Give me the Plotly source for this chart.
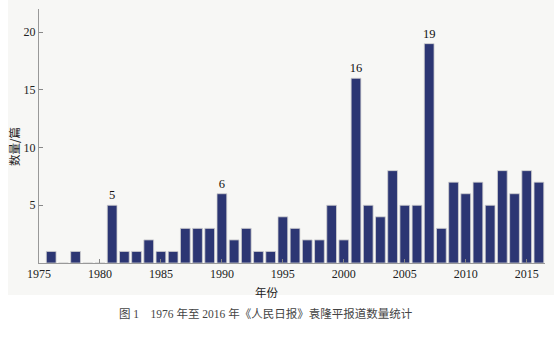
import plotly.graph_objects as go

years = list(range(1976, 2017))
counts = [1, 0, 1, 0, 0, 5, 1, 1, 2, 1, 1, 3, 3, 3, 6, 2, 3, 1, 1, 4,
          3, 2, 2, 5, 2, 16, 5, 4, 8, 5, 5, 19, 3, 7, 6, 7, 5, 8, 6, 8, 7]
labeled_years = [1981, 1990, 2001, 2007]
x_ticks = [1975, 1980, 1985, 1990, 1995, 2000, 2005, 2010, 2015]
y_ticks = [5, 10, 15, 20]
y_title = "数量/篇"
x_title = "年份"
caption = "图 1　1976 年至 2016 年《人民日报》袁隆平报道数量统计"

bar_text = [str(c) if y in labeled_years else "" for y, c in zip(years, counts)]

W, H = 554, 341
L, R, T, B = 39, 9, 9, 78
pw, ph = W - L - R, H - T - B

def px_x(px):
    return (px - L) / pw

def px_y(py):
    return (H - B - py) / ph

serif = "'Times New Roman', 'Liberation Serif', serif"
cjk = "'Noto Sans CJK SC'"
mixed = "'Times New Roman', 'Liberation Serif', 'Noto Sans CJK SC'"

fig = go.Figure(go.Bar(
    x=years, y=counts, width=0.8,
    marker=dict(color="#2c3673", line=dict(color="#d0d0d0", width=0.8)),
    text=bar_text, textposition="outside", cliponaxis=False, constraintext="none",
    textfont=dict(family=serif, size=12.5, color="#111111"),
    outsidetextfont=dict(family=serif, size=12.5, color="#111111"),
))

fig.update_layout(
    width=W, height=H,
    margin=dict(l=L, r=R, t=T, b=B),
    paper_bgcolor="white", plot_bgcolor="rgba(0,0,0,0)",
    showlegend=False, bargap=0.2,
    font=dict(family=serif, size=11, color="#222"),
    xaxis=dict(range=[1975, 2016.5], tickvals=x_ticks, ticks="inside", ticklen=4,
               tickcolor="#888", showline=True, linecolor="#999", linewidth=1,
               showgrid=False, zeroline=False, tickfont=dict(family=serif, size=12, color="#222")),
    yaxis=dict(range=[0, 22], tickvals=y_ticks, ticks="inside", ticklen=4,
               tickcolor="#888", showline=True, linecolor="#999", linewidth=1,
               showgrid=False, zeroline=False, tickfont=dict(family=serif, size=12, color="#222")),
    shapes=[dict(type="rect", xref="paper", yref="paper", layer="below",
                 x0=px_x(8), x1=px_x(554), y0=px_y(295), y1=px_y(0),
                 fillcolor="#f7f7f5", line=dict(width=0))],
    annotations=[
        dict(text=y_title, xref="paper", yref="paper", x=px_x(14), y=px_y(147),
             xanchor="center", yanchor="middle",
             textangle=-90, showarrow=False, font=dict(family=cjk, size=11.5, color="#222")),
        dict(text=x_title, xref="paper", yref="paper", x=px_x(267), y=px_y(292),
             xanchor="center", yanchor="middle",
             showarrow=False, font=dict(family=cjk, size=11.5, color="#222")),
        dict(text=caption, xref="paper", yref="paper", x=px_x(266), y=px_y(313),
             xanchor="center", yanchor="middle",
             showarrow=False, font=dict(family=mixed, size=11.5, color="#444")),
    ],
)

fig.write_html("out.html")
